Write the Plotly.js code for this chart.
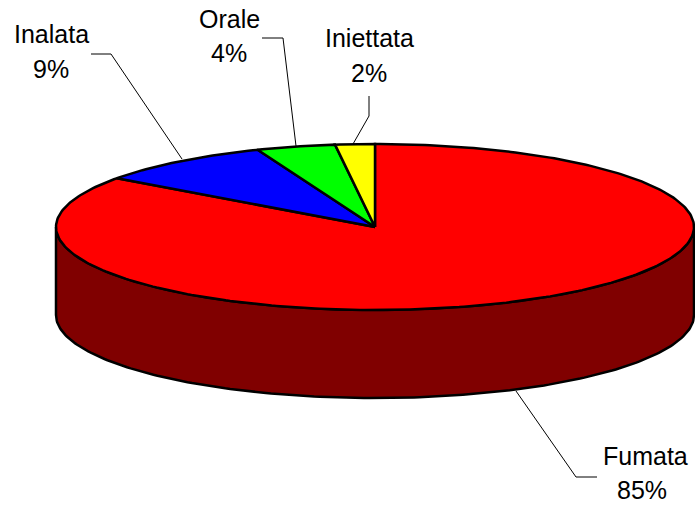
<!DOCTYPE html>
<html><head><meta charset="utf-8">
<script src="https://cdn.plot.ly/plotly-3.0.1.min.js"></script>
<style>html,body{margin:0;padding:0;background:#fff}#c{width:695px;height:508px}</style>
</head><body><div id="c"></div>
<script>
const categories = ["Fumata","Inalata","Orale","Iniettata"];
const values = [85,9,4,2];
const topColors = ["#ff0000","#0000ff","#00ff00","#ffff00"];
const wallColor = "#800000";
const cx=375, cy=227, rx=319, ry=83, depth=88;
const leaders = [
  [[516,576,597],[391,477,477]],
  [[182,111,91],[159,54,54]],
  [[296,283,262],[146,38,38]],
  [[353,369,369],[144,116,96]]
];
const nameAt = [[645,456],[51,34],[229,19],[369,38]];
const pctAt  = [[642,490],[51,69],[229,53],[369,73]];

const total = values.reduce((a,b)=>a+b,0);
const ptX = a => cx + rx*Math.sin(a);
const ptY = a => cy - ry*Math.cos(a);
const traces = [];
// side wall: front half of the ellipse, extruded downward
(function(){
  const xs=[],ys=[],n=180;
  for(let i=0;i<=n;i++){const a=Math.PI/2+Math.PI*i/n;xs.push(ptX(a));ys.push(ptY(a));}
  for(let i=n;i>=0;i--){const a=Math.PI/2+Math.PI*i/n;xs.push(ptX(a));ys.push(ptY(a)+depth);}
  xs.push(xs[0]);ys.push(ys[0]);
  traces.push({type:"scatter",mode:"lines",x:xs,y:ys,fill:"toself",fillcolor:wallColor,
    line:{color:"#000",width:2.5},hoverinfo:"skip",showlegend:false,cliponaxis:false});
})();
// top slices, clockwise from 12 o'clock
let acc=0;
values.forEach((v,k)=>{
  const a0=2*Math.PI*acc/total, a1=2*Math.PI*(acc+v)/total;
  acc+=v;
  const n=Math.max(6,Math.round(v*4));
  const xs=[cx],ys=[cy];
  for(let i=0;i<=n;i++){const a=a0+(a1-a0)*i/n;xs.push(ptX(a));ys.push(ptY(a));}
  xs.push(cx);ys.push(cy);
  traces.push({type:"scatter",mode:"lines",x:xs,y:ys,fill:"toself",fillcolor:topColors[k],
    name:categories[k],line:{color:"#000",width:2.5},hoverinfo:"skip",showlegend:false,cliponaxis:false});
});
// leader lines
leaders.forEach(l=>traces.push({type:"scatter",mode:"lines",x:l[0],y:l[1],
  line:{color:"#000",width:1},hoverinfo:"skip",showlegend:false,cliponaxis:false}));

const font={family:"Liberation Sans, Arial, sans-serif",size:25,color:"#000"};
const annotations=[];
categories.forEach((c,k)=>{
  annotations.push({x:nameAt[k][0],y:nameAt[k][1],xref:"x",yref:"y",text:c,showarrow:false,font,xanchor:"center",yanchor:"middle"});
  annotations.push({x:pctAt[k][0],y:pctAt[k][1],xref:"x",yref:"y",text:values[k]+"%",showarrow:false,font,xanchor:"center",yanchor:"middle"});
});
const hidden={visible:false,fixedrange:true,showgrid:false,zeroline:false};
Plotly.newPlot("c",traces,{
  width:695,height:508,margin:{l:0,r:0,t:0,b:0},
  paper_bgcolor:"#fff",plot_bgcolor:"#fff",showlegend:false,hovermode:false,
  xaxis:Object.assign({range:[0,695]},hidden),
  yaxis:Object.assign({range:[508,0]},hidden),
  annotations
},{displayModeBar:false,staticPlot:true});
</script></body></html>
